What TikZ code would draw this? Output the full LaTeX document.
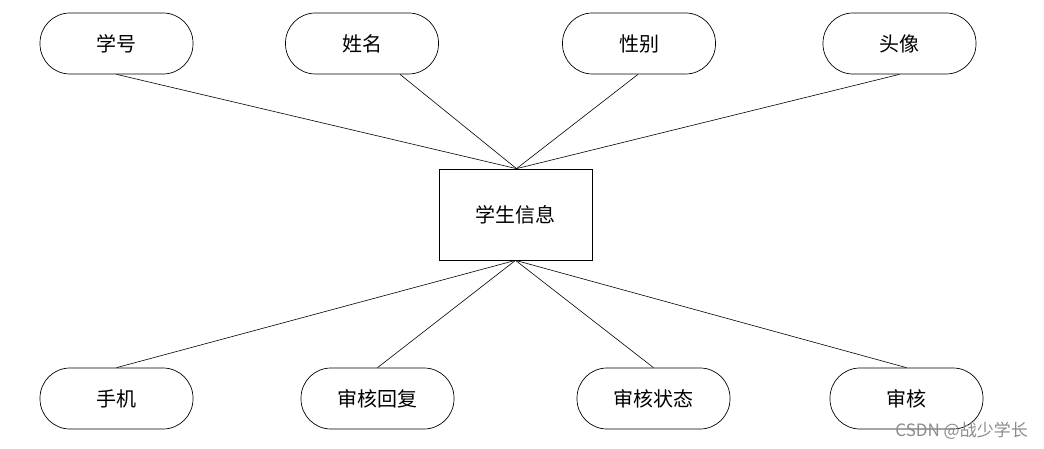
\documentclass[tikz,border=0pt]{standalone}
\usepackage{fontspec}
\setmainfont{Noto Sans CJK SC}
\newfontfamily\cjk{Noto Sans CJK SC}
\begin{document}
\begin{tikzpicture}[x=1pt,y=-1pt,
  attr/.style={draw, line width=0.7pt, rounded corners=30pt, minimum width=153pt, minimum height=61pt, inner sep=0pt, font=\cjk\fontsize{20}{24}\selectfont},
  ent/.style={draw, line width=0.7pt, minimum width=153pt, minimum height=91pt, inner sep=0pt, font=\cjk\fontsize{20}{24}\selectfont},
  link/.style={line width=0.6pt}]
\useasboundingbox[fill=white] (0,0) rectangle (1044,449);
\node[ent] (e) at (515.5,214.5) {学生信息};
\node[attr] (a1) at (116.5,43.5) {学号};
\node[attr] (a2) at (362,43.5) {姓名};
\node[attr] (a3) at (639,43.5) {性别};
\node[attr] (a4) at (899.5,43.5) {头像};
\node[attr] (b1) at (116.5,398.5) {手机};
\node[attr] (b2) at (377.5,398.5) {审核回复};
\node[attr] (b3) at (653.5,398.5) {审核状态};
\node[attr] (b4) at (906.5,398.5) {审核};
\coordinate (top) at ([xshift=1pt]e.north);
\draw[link] (a1.south) -- (top);
\draw[link] ([xshift=38pt]a2.south) -- (top);
\draw[link] ([xshift=-1pt]a3.south) -- (top);
\draw[link] (a4.south) -- (top);
\draw[link] (e.south) -- (b1.north);
\draw[link] (e.south) -- (b2.north);
\draw[link] (e.south) -- (b3.north);
\draw[link] (e.south) -- (b4.north);
\node[font=\cjk\fontsize{17}{19}\selectfont, text=black!45, anchor=east, inner sep=0pt] (wm) at (1028,431) {CSDN @战少学长};
\end{tikzpicture}
\end{document}
